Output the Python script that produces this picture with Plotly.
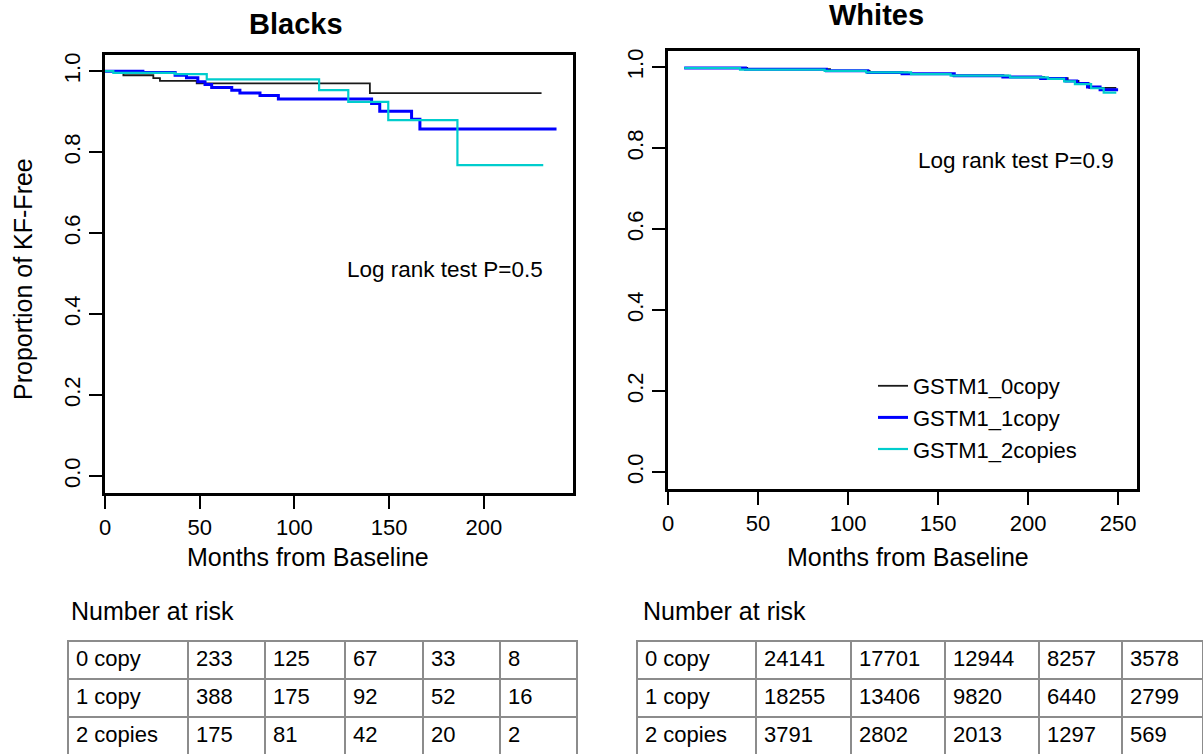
import plotly.graph_objects as go

W, H = 1203, 754
FONT = "Liberation Sans, Arial, Helvetica, sans-serif"

# ---------------- data ----------------
# Blacks (months, survival proportion)
b0_t = [0, 9.7, 25.5, 29, 48.4, 139.8, 230.4]
b0_s = [1.0, 0.990, 0.983, 0.976, 0.970, 0.946, 0.946]
b1_t = [0, 20, 37, 43, 49, 52.8, 56.3, 66.9, 71.2, 81.8, 91.5, 140.7, 145, 161.8, 166.2, 238.3]
b1_s = [1.0, 0.997, 0.990, 0.984, 0.974, 0.967, 0.960, 0.953, 0.946, 0.940, 0.931, 0.920, 0.901, 0.881, 0.857, 0.857]
b2_t = [0, 4.4, 37, 53.7, 113, 128.4, 149.5, 186, 231.3]
b2_s = [1.0, 0.996, 0.993, 0.980, 0.953, 0.924, 0.879, 0.768, 0.768]

# Whites
w0_t = [9, 44, 90, 112, 133, 158, 189, 209, 222, 228, 234, 249]
w0_s = [0.998, 0.995, 0.991, 0.987, 0.983, 0.979, 0.976, 0.973, 0.966, 0.960, 0.949, 0.949]
w1_t = [9, 43, 88, 111, 130, 159, 186, 207, 221, 227, 233, 240, 250]
w1_s = [0.998, 0.995, 0.991, 0.987, 0.984, 0.979, 0.976, 0.972, 0.966, 0.960, 0.951, 0.944, 0.944]
w2_t = [9, 40, 87, 110, 135, 157, 190, 211, 220, 226, 235, 242, 249]
w2_s = [0.998, 0.994, 0.991, 0.987, 0.983, 0.979, 0.975, 0.971, 0.965, 0.958, 0.948, 0.937, 0.937]

series_names = ["GSTM1_0copy", "GSTM1_1copy", "GSTM1_2copies"]
series_colors = ["#1a1a1a", "#0000ff", "#00cdcd"]
series_widths = [1.8, 3.0, 2.2]

row_labels = ["0 copy", "1 copy", "2 copies"]
black_risk = [[233, 125, 67, 33, 8], [388, 175, 92, 52, 16], [175, 81, 42, 20, 2]]
white_risk = [[24141, 17701, 12944, 8257, 3578], [18255, 13406, 9820, 6440, 2799], [3791, 2802, 2013, 1297, 569]]

x_ticks_black = [0, 50, 100, 150, 200]
x_ticks_white = [0, 50, 100, 150, 200, 250]
y_ticks = [0.0, 0.2, 0.4, 0.6, 0.8, 1.0]
y_ticktext = ["0.0", "0.2", "0.4", "0.6", "0.8", "1.0"]


def px(x):
    return x / W


def py(y):
    return 1 - y / H


fig = go.Figure()

black_sets = [(b0_t, b0_s), (b1_t, b1_s), (b2_t, b2_s)]
white_sets = [(w0_t, w0_s), (w1_t, w1_s), (w2_t, w2_s)]

for i, (t, s) in enumerate(black_sets):
    fig.add_trace(go.Scatter(x=t, y=s, mode="lines", line=dict(color=series_colors[i], width=series_widths[i], shape="hv"),
                             name=series_names[i], showlegend=False, xaxis="x", yaxis="y"))
for i, (t, s) in enumerate(white_sets):
    fig.add_trace(go.Scatter(x=t, y=s, mode="lines", line=dict(color=series_colors[i], width=series_widths[i], shape="hv"),
                             name=series_names[i], showlegend=True, xaxis="x2", yaxis="y2"))


def make_table(values, xdom, colw):
    cols = [row_labels] + [[str(r[j]) for r in values] for j in range(len(values[0]))]
    header_vals = [c[0] for c in cols]
    cell_vals = [c[1:] for c in cols]
    common_line = dict(color="#8c8c8c", width=2)
    return go.Table(
        domain=dict(x=xdom, y=[0, py(641)]),
        columnwidth=colw,
        header=dict(values=header_vals, height=38, align="left", line=common_line, fill=dict(color="white"),
                    font=dict(family=FONT, size=22, color="black")),
        cells=dict(values=cell_vals, height=38, align="left", line=common_line, fill=dict(color="white"),
                   font=dict(family=FONT, size=22, color="black")),
    )


fig.add_trace(make_table(black_risk, [px(68), px(577)], [120, 77, 80, 78, 77, 77]))
fig.add_trace(make_table(white_risk, [px(637), 1.0], [119, 95, 94, 94, 83, 81]))

axis_common = dict(showline=True, mirror=True, linecolor="black", linewidth=2.5, showgrid=False, zeroline=False,
                   ticks="outside", ticklen=13, tickwidth=2, tickcolor="black",
                   tickfont=dict(family=FONT, size=22, color="black"))


def ann(text, x, y, size, **kw):
    d = dict(text=text, x=px(x), y=py(y), xref="paper", yref="paper", showarrow=False,
             xanchor="center", yanchor="middle", font=dict(family=FONT, size=size, color="black"))
    d.update(kw)
    return d


fig.update_layout(
    width=W, height=H, margin=dict(l=0, r=0, t=0, b=0, autoexpand=False),
    paper_bgcolor="white", plot_bgcolor="white",
    xaxis=dict(domain=[px(105), px(573)], range=[0, 247], tickvals=x_ticks_black, anchor="y", **axis_common),
    yaxis=dict(domain=[py(493), py(55)], range=[-0.042, 1.04], tickvals=y_ticks, ticktext=y_ticktext,
               tickangle=-90, anchor="x", **axis_common),
    xaxis2=dict(domain=[px(668), px(1137)], range=[0, 260.5], tickvals=x_ticks_white, anchor="y2", **axis_common),
    yaxis2=dict(domain=[py(489), py(51)], range=[-0.042, 1.04], tickvals=y_ticks, ticktext=y_ticktext,
                tickangle=-90, anchor="x2", **axis_common),
    legend=dict(x=px(873), y=py(365), xanchor="left", yanchor="top", bgcolor="rgba(0,0,0,0)",
                font=dict(family=FONT, size=22, color="black"), tracegroupgap=0),
    font=dict(family=FONT, color="black"),
    annotations=[
        ann("Blacks", 296, 24, 29, font=dict(family=FONT, size=29, color="black", weight="bold")),
        ann("Whites", 876, 15, 29, font=dict(family=FONT, size=29, color="black", weight="bold")),
        ann("Proportion of KF-Free", 23, 279, 25, textangle=-90),
        ann("Months from Baseline", 308, 557, 25),
        ann("Months from Baseline", 908, 557, 25),
        dict(text="Log rank test P=0.5", x=126.6, y=0.511, xref="x", yref="y", xanchor="left", yanchor="middle",
             showarrow=False, font=dict(family=FONT, size=22.5, color="black")),
        dict(text="Log rank test P=0.9", x=137.8, y=0.770, xref="x2", yref="y2", xanchor="left", yanchor="middle",
             showarrow=False, font=dict(family=FONT, size=22.5, color="black")),
        ann("Number at risk", 69, 611, 25, xanchor="left"),
        ann("Number at risk", 641, 611, 25, xanchor="left"),
    ],
)

fig.write_html("out.html", config={"displayModeBar": False},
               post_script="document.body.style.margin='0';document.body.style.overflow='hidden';")
